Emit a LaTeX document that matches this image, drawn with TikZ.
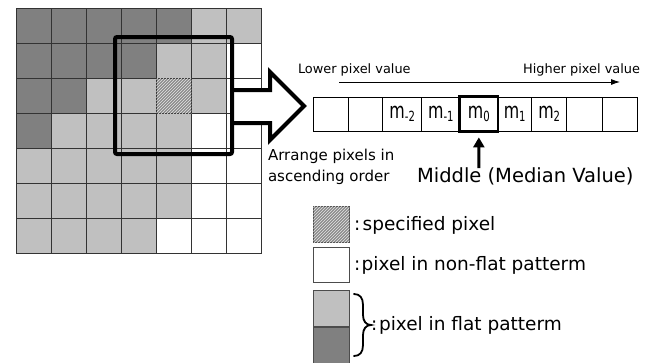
\documentclass[tikz,border=0pt]{standalone}
\usepackage{fontspec}
\setmainfont{DejaVu Sans}
\usetikzlibrary{patterns,arrows.meta}
\definecolor{dk}{HTML}{808080}
\definecolor{lt}{HTML}{C0C0C0}
\definecolor{hatchbg}{HTML}{8C8C8C}
\newcommand\msub[1]{\scalebox{0.72}[1]{m\raisebox{-3.5pt}{\fontsize{14}{14}\selectfont #1}}}
\begin{document}
\begin{tikzpicture}[x=1pt,y=-1pt,
  cell/.style={draw=black!80,line width=0.8pt,minimum size=35pt,inner sep=0pt,anchor=north west},
  arr/.style={draw=black,line width=0.8pt,minimum height=34pt,inner sep=0pt,font=\fontsize{22}{24}\selectfont},
  leg/.style={draw=black!70,line width=0.8pt,minimum width=36pt,inner sep=0pt,anchor=north west},
  txt/.style={inner sep=0pt,outer sep=0pt},
  hatch/.style={fill=hatchbg,postaction={pattern=north east lines,pattern color=white!80!gray}}]
\useasboundingbox (0,0) rectangle (654,362);
% grid
\foreach \rowcols [count=\r from 0] in {
  {dk,dk,dk,dk,dk,lt,lt},
  {dk,dk,dk,dk,lt,lt,white},
  {dk,dk,lt,lt,lt,lt,white},
  {dk,lt,lt,lt,lt,white,white},
  {lt,lt,lt,lt,lt,white,white},
  {lt,lt,lt,lt,lt,white,white},
  {lt,lt,lt,lt,white,white,white}}{
  \foreach \col [count=\c from 0] in \rowcols {
    \node[cell,fill=\col] (g-\r-\c) at ({16+35*\c},{8+35*\r}) {};
  }
}
\node[cell,hatch] (spec) at (156,78) {};
% hollow arrow
\filldraw[fill=white,line width=4pt,line join=miter,miter limit=10]
  (232,90) -- (270,90) -- (270,72) -- (304,106) -- (270,140) -- (270,123) -- (232,123);
% window
\node[draw,line width=4pt,rounded corners=2pt,minimum size=117pt,inner sep=0pt] (win) at (173.5,95.5) {};
% array
\foreach \xa/\xb/\t [count=\i from 0] in {313.3/348.3/{},348.3/382.7/{},382.7/421.7/{\msub{-2}},421.7/460/{\msub{-1}},460/497.7/{\msub{0}},497.7/531.7/{\msub{1}},531.7/566.7/{\msub{2}},566.7/602.3/{},602.3/637.7/{}}{
  \node[arr,minimum width={\xb-\xa}] (a\i) at ({(\xa+\xb)/2},114) {\t};
}
\draw[line width=2.5pt] (a4.north west) rectangle (a4.south east);
% value arrow
\coordinate (lo) at (339,82);
\coordinate (hi) at (620,82);
\draw[line width=0.8pt,-{Latex[length=9pt,width=6pt]}] (lo) -- (hi);
\node[txt,anchor=base west,font=\fontsize{12.9}{15}\selectfont] (lower) at (298,73) {Lower pixel value};
\node[txt,anchor=base east,font=\fontsize{12.9}{15}\selectfont] (higher) at (640,73) {Higher pixel value};
% median arrow
\coordinate (mb) at (478.85,168);
\draw[line width=3pt,-{Triangle[length=10pt,width=11pt]}] (mb) -- ([yshift=-6pt]a4.south);
\node[txt,anchor=base west,font=\fontsize{15}{18}\selectfont] (arr1) at (268,160) {Arrange pixels in};
\node[txt,anchor=base west,font=\fontsize{15}{18}\selectfont] (arr2) at (268,181) {ascending order};
\node[txt,anchor=base west,font=\fontsize{19.5}{22}\selectfont] (mid) at (417,182) {Middle (Median Value)};
% legend
\node[leg,hatch,minimum height=36pt] (lh) at (313,206) {};
\node[leg,fill=white,minimum height=35pt] (lw) at (313,247) {};
\node[leg,fill=lt,minimum height=36pt] (ll) at (313,290) {};
\node[leg,fill=dk,minimum height=47pt] (ld) at (313,327) {};
\node[txt,anchor=base west,font=\fontsize{18.5}{21}\selectfont] (t1) at (354,230) {:\kern2.5pt specified pixel};
\node[txt,anchor=base west,font=\fontsize{18.5}{21}\selectfont] (t2) at (354,270) {:\kern1.5pt pixel in non-flat patterm};
\node[txt,anchor=base west,font=\fontsize{18.5}{21}\selectfont] (t3) at (371,330) {:\kern1.8pt pixel in flat patterm};
\draw[line width=1.8pt,line cap=round]
  (354,294) .. controls (360,294) and (363,298) .. (363,305) -- (363,315)
  .. controls (363,321) and (366,325) .. (371,325)
  .. controls (366,325) and (363,329) .. (363,335) -- (363,345)
  .. controls (363,352) and (360,356) .. (354,356);
\end{tikzpicture}
\end{document}
